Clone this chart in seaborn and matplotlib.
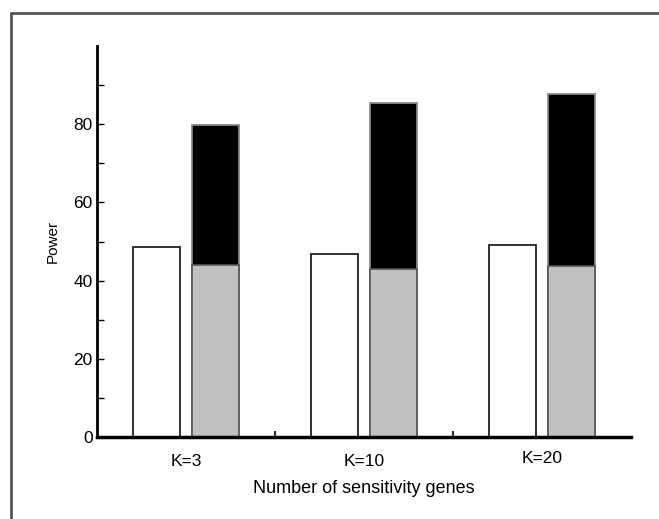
import matplotlib
matplotlib.use("Agg")
import matplotlib.pyplot as plt
from matplotlib.lines import Line2D
import seaborn as sns
import pandas as pd

categories = ["K=3", "K=10", "K=20"]
single_power = [48.5, 46.7, 49.1]      # white bars
combined_total = [79.7, 85.3, 87.7]    # top of stacked bars (black part)
combined_lower = [44.0, 42.9, 43.8]    # grey lower part

sns.set_style("white")
plt.rcParams["font.family"] = ["Liberation Sans", "DejaVu Sans"]
plt.rcParams["text.color"] = "black"
plt.rcParams["axes.labelcolor"] = "black"
plt.rcParams["xtick.color"] = "black"
plt.rcParams["ytick.color"] = "black"

fig = plt.figure(figsize=(6.59, 5.19), dpi=100)
ax = fig.add_axes([97/659, 1-437/519, (631-97)/659, (437-46)/519])

levels = ["single", "combined"]
df_a = pd.DataFrame({"cat": categories * 2,
                     "kind": ["single"] * 3 + ["combined"] * 3,
                     "power": single_power + combined_total})
df_b = pd.DataFrame({"cat": categories * 2,
                     "kind": ["single"] * 3 + ["combined"] * 3,
                     "power": [0.0] * 3 + combined_lower})

sns.barplot(data=df_a, x="cat", y="power", hue="kind", hue_order=levels,
            order=categories, palette={"single": "white", "combined": "black"},
            width=0.664, gap=0.205, edgecolor="#222222", linewidth=1.3,
            legend=False, ax=ax, errorbar=None, saturation=1)
# black bars with grey edges
for p in ax.patches[3:]:
    p.set_edgecolor("#888888")
n_before = len(ax.patches)
sns.barplot(data=df_b, x="cat", y="power", hue="kind", hue_order=levels,
            order=categories, palette={"single": "white", "combined": "#c0c0c0"},
            width=0.664, gap=0.205, edgecolor="#555555", linewidth=1.2,
            legend=False, ax=ax, errorbar=None, saturation=1)
# drop the zero-height placeholder bars used only for dodging
for p in list(ax.patches[n_before:]):
    if p.get_height() == 0:
        p.remove()

ax.set_xlim(-0.5, 2.5)
ax.set_ylim(0, 100)
ax.set_yticks([0, 20, 40, 60, 80])
ax.set_yticks([10, 30, 50, 70, 90], minor=True)
ax.set_xticks([0.5, 1.5], minor=True)
ax.tick_params(axis="y", which="both", direction="in", length=5, width=1,
               labelsize=12.5, pad=3, left=True)
ax.tick_params(axis="x", which="major", length=0, labelsize=12.5, pad=12)
ax.tick_params(axis="x", which="minor", direction="in", length=4, width=1.2,
               bottom=True)
labs = ax.get_xticklabels()
labs[2].set_y(0.008)

for s in ["top", "right"]:
    ax.spines[s].set_visible(False)
ax.spines["left"].set_linewidth(2.0)
ax.spines["bottom"].set_linewidth(2.5)
ax.spines["left"].set_color("black")
ax.spines["bottom"].set_color("black")

ax.set_xlabel("Number of sensitivity genes", fontsize=13, labelpad=8)
ax.set_ylabel("Power", fontsize=11, labelpad=10)

# figure frame (top and left edges)
fig.add_artist(Line2D([11/659, 1.0], [1-13/519, 1-13/519], transform=fig.transFigure,
                      color="#555555", linewidth=2))
fig.add_artist(Line2D([11/659, 11/659], [0.0, 1-13/519], transform=fig.transFigure,
                      color="#555555", linewidth=2))

fig.savefig("out.png", dpi=100)
